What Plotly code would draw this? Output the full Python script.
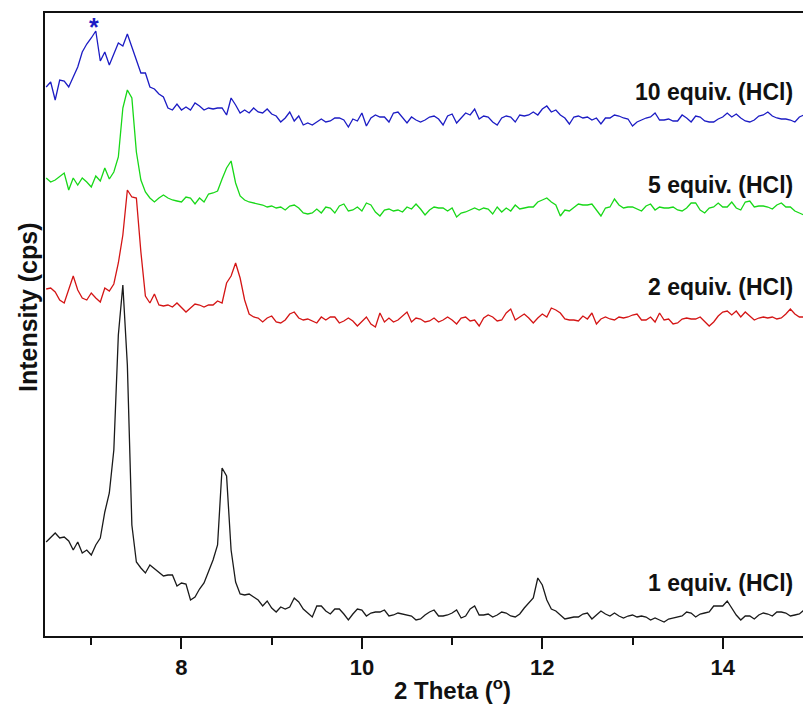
import numpy as np
import plotly.graph_objects as go

# 2-theta sampling grid (degrees)
two_theta = np.round(np.arange(6.50, 14.9001, 0.05), 2)

# Stacked (offset) intensities, arbitrary cps units
i_1eq = [
    94, 98, 103, 98, 99, 95, 86, 94, 83, 86,
    81, 91, 98, 124, 143, 186, 301, 351, 271, 111,
    74, 68, 63, 71, 67, 64, 60, 61, 61, 50,
    53, 52, 36, 39, 47, 53, 64, 76, 91, 168,
    160, 86, 54, 42, 41, 42, 39, 36, 30, 35,
    28, 24, 29, 27, 29, 38, 34, 27, 23, 19,
    30, 30, 25, 22, 27, 27, 22, 16, 22, 27,
    26, 20, 23, 24, 24, 26, 20, 21, 23, 22,
    21, 20, 16, 17, 21, 24, 26, 20, 20, 21,
    23, 26, 18, 20, 27, 30, 21, 21, 22, 19,
    21, 24, 23, 20, 19, 22, 28, 33, 38, 58,
    51, 36, 27, 25, 21, 17, 18, 19, 19, 22,
    23, 17, 21, 25, 22, 20, 23, 20, 18, 20,
    21, 19, 20, 19, 16, 18, 16, 14, 17, 18,
    19, 20, 24, 23, 19, 22, 23, 24, 30, 30,
    30, 35, 28, 21, 16, 20, 20, 17, 21, 23,
    22, 20, 24, 24, 23, 20, 21, 22, 26,
]
i_2eq = [
    347, 348, 344, 336, 333, 346, 360, 346, 338, 336,
    343, 338, 334, 348, 345, 352, 373, 401, 446, 439,
    438, 384, 340, 333, 342, 331, 330, 331, 329, 333,
    328, 324, 328, 332, 331, 329, 331, 331, 335, 333,
    353, 360, 373, 358, 336, 322, 319, 318, 314, 318,
    320, 314, 313, 316, 322, 324, 318, 316, 317, 315,
    313, 319, 316, 319, 319, 313, 315, 318, 315, 310,
    314, 319, 312, 309, 323, 314, 318, 314, 316, 320,
    324, 314, 318, 317, 314, 315, 318, 314, 316, 319,
    316, 312, 318, 319, 315, 316, 310, 318, 321, 319,
    315, 316, 323, 327, 316, 319, 322, 318, 313, 318,
    322, 319, 328, 326, 323, 317, 316, 316, 315, 320,
    317, 323, 312, 317, 319, 317, 316, 319, 318, 319,
    321, 322, 316, 316, 319, 314, 323, 316, 317, 312,
    313, 317, 318, 317, 317, 319, 315, 310, 314, 320,
    324, 325, 321, 325, 319, 324, 320, 316, 318, 319,
    318, 319, 317, 318, 322, 327, 322, 319, 319,
]
i_5eq = [
    458, 454, 456, 460, 463, 446, 458, 451, 458, 454,
    449, 460, 455, 468, 457, 464, 479, 528, 546, 538,
    484, 456, 444, 438, 434, 438, 441, 438, 436, 435,
    434, 439, 438, 432, 438, 434, 442, 443, 445, 457,
    468, 475, 453, 440, 436, 434, 433, 432, 431, 429,
    430, 428, 429, 426, 430, 431, 428, 423, 422, 423,
    427, 423, 429, 428, 423, 430, 432, 425, 426, 429,
    425, 433, 431, 424, 420, 426, 427, 425, 426, 424,
    429, 427, 432, 427, 421, 426, 429, 428, 428, 425,
    428, 419, 423, 424, 426, 428, 426, 428, 427, 422,
    429, 424, 428, 425, 431, 427, 428, 429, 429, 434,
    436, 438, 434, 431, 420, 426, 425, 429, 432, 431,
    431, 432, 426, 420, 428, 429, 437, 431, 428, 429,
    429, 427, 425, 430, 432, 426, 429, 428, 428, 429,
    426, 425, 428, 433, 433, 426, 423, 428, 429, 433,
    429, 429, 434, 428, 426, 434, 435, 429, 430, 430,
    429, 427, 431, 433, 429, 429, 425, 423, 421,
]
i_10eq = [
    549, 554, 536, 556, 555, 549, 559, 569, 584, 592,
    598, 605, 575, 584, 571, 583, 593, 590, 602, 589,
    576, 563, 563, 549, 547, 542, 539, 528, 526, 532,
    526, 529, 526, 533, 530, 526, 528, 527, 528, 528,
    521, 538, 531, 523, 526, 523, 528, 524, 523, 527,
    522, 520, 514, 518, 524, 515, 520, 511, 513, 511,
    514, 517, 514, 515, 518, 518, 516, 509, 517, 515,
    523, 510, 518, 521, 519, 519, 514, 523, 524, 518,
    513, 519, 516, 514, 516, 519, 520, 517, 511, 520,
    522, 513, 518, 523, 521, 527, 517, 520, 519, 514,
    511, 518, 520, 519, 514, 521, 520, 521, 524, 521,
    527, 530, 524, 526, 521, 518, 512, 519, 520, 518,
    519, 516, 518, 512, 518, 518, 521, 520, 518, 517,
    510, 514, 516, 518, 519, 523, 516, 516, 517, 515,
    515, 521, 518, 514, 520, 519, 515, 514, 514, 517,
    519, 523, 519, 522, 518, 515, 514, 516, 520, 521,
    524, 520, 518, 517, 517, 516, 514, 519, 521,
]

series_names = ["1 equiv. (HCl)", "2 equiv. (HCl)", "5 equiv. (HCl)", "10 equiv. (HCl)"]
series_data = [i_1eq, i_2eq, i_5eq, i_10eq]
series_colors = ["#1a1a1a", "#d41515", "#18d818", "#1c1cc4"]
label_y = [53, 349, 451, 544]

tick_vals = [8, 10, 12, 14]
tick_text = ["8", "10", "12", "14"]

FONT = "Liberation Sans, Arial, sans-serif"

fig = go.Figure()
for name, ys, col in zip(series_names, series_data, series_colors):
    assert len(ys) == len(two_theta), (name, len(ys))
    fig.add_trace(go.Scatter(x=two_theta, y=ys, mode="lines", name=name,
                             line=dict(color=col, width=1.3), showlegend=False))

for name, ly in zip(series_names, label_y):
    fig.add_annotation(x=14.80, y=ly, xref="x", yref="y", text=name, showarrow=False,
                       xanchor="right", yanchor="middle",
                       font=dict(family=FONT, size=23, color="#111111", weight="bold"))

# asterisk above the marked reflection of the 10 equiv. pattern
fig.add_annotation(x=7.035, y=609, xref="x", yref="y", text="*", showarrow=False,
                   xanchor="center", yanchor="middle",
                   font=dict(family=FONT, size=25, color="#1c1cc4", weight="bold"))

# axis titles
fig.add_annotation(x=(452 - 45) / 758, y=(636 - 689) / 623, xref="paper", yref="paper",
                   text="2 Theta (<sup>o</sup>)", showarrow=False,
                   xanchor="center", yanchor="middle",
                   font=dict(family=FONT, size=24, color="#111111", weight="bold"))
fig.add_annotation(x=(28 - 45) / 758, y=(636 - 308) / 623, xref="paper", yref="paper",
                   text="Intensity (cps)", showarrow=False, textangle=-90,
                   xanchor="center", yanchor="middle",
                   font=dict(family=FONT, size=25, color="#111111", weight="bold"))

fig.update_xaxes(range=[6.487, 14.89], showline=True, linewidth=2, linecolor="#111111",
                 mirror=True, showgrid=False, zeroline=False,
                 tickmode="array", tickvals=tick_vals, ticktext=tick_text,
                 ticks="outside", ticklen=11, tickwidth=2, tickcolor="#111111",
                 tickfont=dict(family=FONT, size=22, color="#111111", weight="bold"),
                 minor=dict(dtick=1, tick0=7, ticks="outside", ticklen=7, tickwidth=2,
                            tickcolor="#111111", showgrid=False))
fig.update_yaxes(range=[0, 623], showline=True, linewidth=2, linecolor="#111111",
                 mirror=False, showgrid=False, zeroline=False, showticklabels=False,
                 ticks="")

fig.update_layout(width=803, height=706, autosize=False,
                  margin=dict(l=45, r=0, t=13, b=70),
                  paper_bgcolor="white", plot_bgcolor="white")

fig.write_html("out.html")
